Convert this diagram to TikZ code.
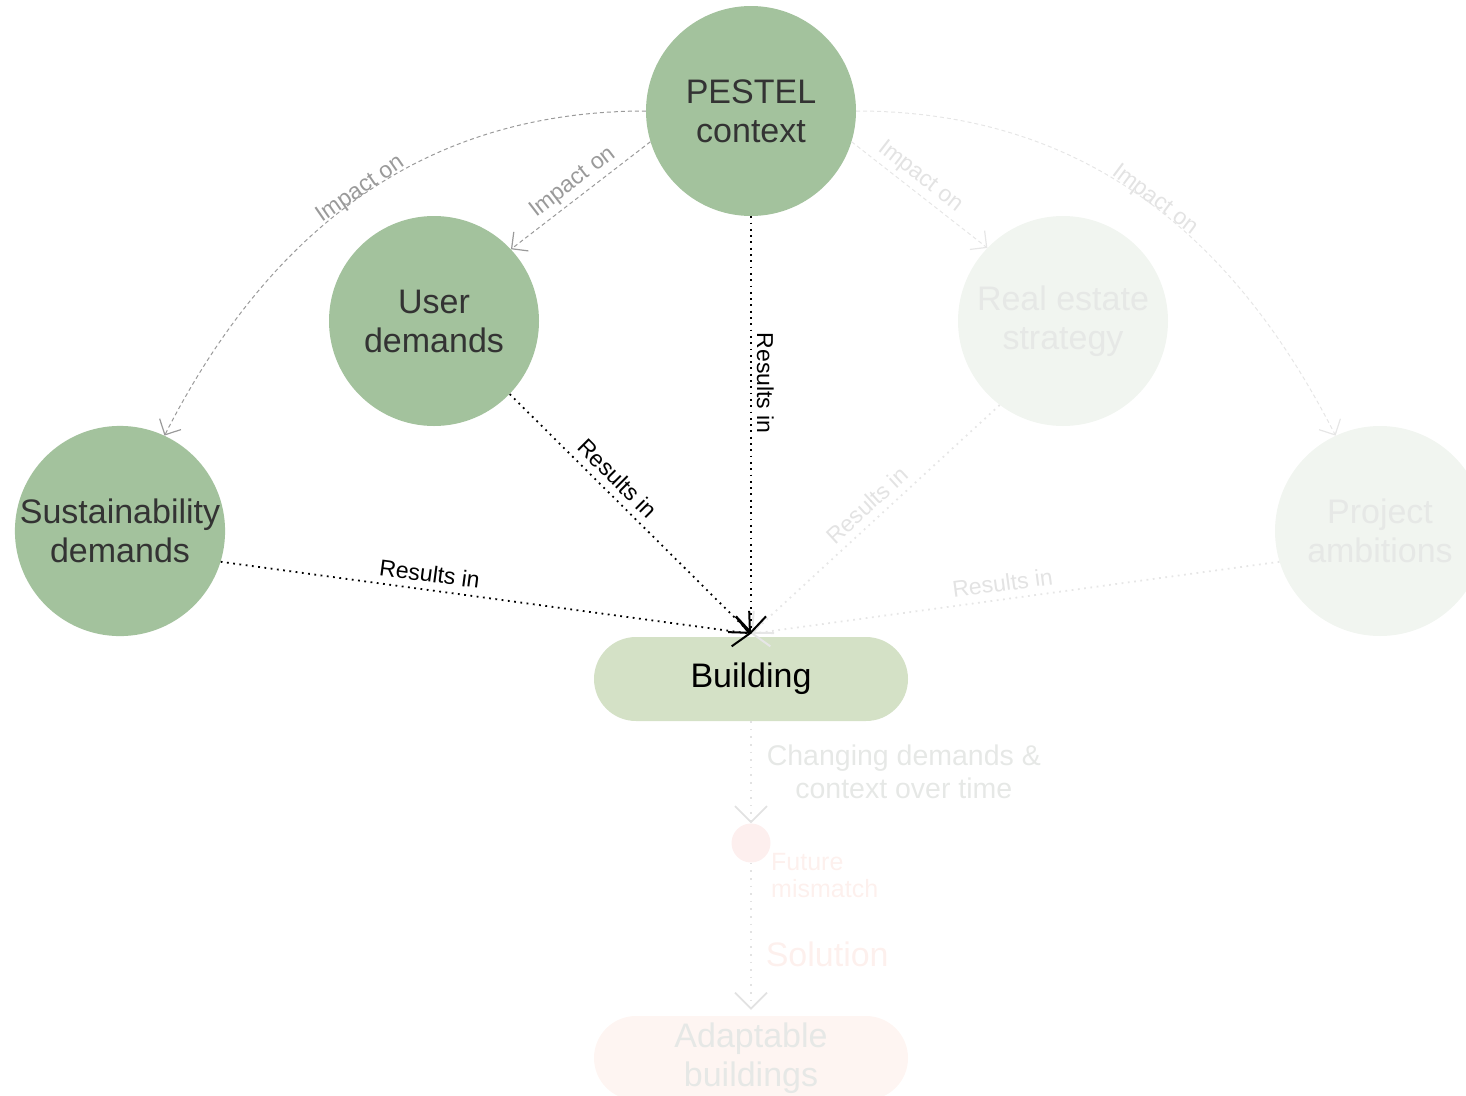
\documentclass[tikz,border=0pt]{standalone}
\usepackage{fontspec}
\setmainfont{Liberation Sans}
\usetikzlibrary{arrows.meta}

\definecolor{sage}{HTML}{A3C29D}
\definecolor{ink}{HTML}{333333}
\definecolor{buildfill}{HTML}{D4E1C6}
\definecolor{palegreen}{HTML}{F1F5F0}
\definecolor{paletext}{HTML}{E6E8E6}
\definecolor{impactgray}{HTML}{9A9A9A}
\definecolor{faintline}{HTML}{E6E6E6}
\definecolor{faintlabel}{HTML}{E3E3E3}
\definecolor{pinkdot}{HTML}{FDEFEE}
\definecolor{pinktext}{HTML}{FDF0ED}
\definecolor{pinkfill}{HTML}{FEF5F2}
\definecolor{lowline}{HTML}{E2E2E2}

\tikzset{
  bubble/.style={circle, minimum size=210pt, inner sep=0pt, align=center,
    font=\fontsize{34}{39}\selectfont},
  strongbubble/.style={bubble, fill=sage, text=ink},
  faintbubble/.style={bubble, fill=palegreen, text=paletext},
  pill/.style={rectangle, rounded corners=42pt, minimum width=314pt,
    minimum height=84pt, inner sep=0pt, align=center,
    font=\fontsize{34}{39}\selectfont},
  lbl/.style={font=\fontsize{23}{26}\selectfont, inner xsep=2pt, inner ysep=7pt},
  resline/.style={line width=1.8pt, dash pattern=on 1.8pt off 4.5pt,
    -{Straight Barb[length=16pt,width=30pt,line width=2pt]}},
  faintres/.style={resline, draw=faintline},
  impline/.style={draw=impactgray, line width=1pt, dash pattern=on 4pt off 3pt,
    -{Straight Barb[length=12pt,width=24pt,line width=1.2pt]}},
  faintimp/.style={impline, draw=faintline},
  lowarrow/.style={draw=lowline, line width=1.6pt, dash pattern=on 1.6pt off 6pt,
    -{Straight Barb[length=16pt,width=32pt,line width=1.8pt]}}
}

\begin{document}
\begin{tikzpicture}[x=1pt,y=1pt]
\useasboundingbox (0,0) rectangle (1466,-1095);
\clip (0,0) rectangle (1466,-1095);

% actors
\node[strongbubble] (pe) at (751,-111) {PESTEL\\context};
\node[strongbubble] (ud) at (434,-321) {User\\demands};
\node[strongbubble] (sus) at (120,-531) {Sustainability\\demands};
\node[faintbubble] (re) at (1063,-321) {Real estate\\strategy};
\node[faintbubble] (pa) at (1380,-531) {Project\\ambitions};

% outcome chain
\node[pill, fill=buildfill, text=black] (bld) at (751,-679) {Building};
\node[circle, minimum size=39pt, inner sep=0pt, fill=pinkdot] (fm) at (751,-843) {};
\node[anchor=west, align=left, text=pinktext, inner sep=0pt,
  font=\fontsize{25}{27}\selectfont] (fmlbl) at (771,-876) {Future\\mismatch};
\node[pill, fill=pinkfill, text=paletext] (ab) at (751,-1058) {Adaptable\\buildings};

% impact links from the context
\draw[impline] (pe.west) to[out=180,in=63]
  node[lbl, text=impactgray, sloped, anchor=base, pos=0.49, inner sep=0pt] {Impact on} (sus.65);
\draw[impline] (pe.197) --
  node[lbl, text=impactgray, rotate=37.7, anchor=south, pos=0.49, inner ysep=4pt] {Impact on} (ud.43);
\draw[faintimp] (pe.-17) --
  node[lbl, text=faintlabel, rotate=-37.7, anchor=south, pos=0.44, inner ysep=4pt] {Impact on} (re.136);
\draw[faintimp] (pe.east) to[out=0,in=117]
  node[lbl, text=faintlabel, sloped, anchor=base, pos=0.52, inner sep=0pt] {Impact on} (pa.115);

% results links into the building
\draw[faintres] (re.233) --
  node[lbl, text=faintlabel, rotate=42.6, anchor=south, pos=0.49] {Results in} ([yshift=3pt]bld.north);
\draw[faintres] (pa.197) --
  node[lbl, text=faintlabel, rotate=7.6, anchor=south, pos=0.52] {Results in} ([yshift=3pt]bld.north);
\draw[resline] (sus.-17) --
  node[lbl, rotate=-7.6, anchor=south, pos=0.39] {Results in} ([yshift=3pt]bld.north);
\draw[resline] (ud.-44) --
  node[lbl, rotate=-45, anchor=south, pos=0.40] {Results in} ([yshift=3pt]bld.north);
\draw[resline] (pe.south) --
  node[lbl, rotate=-90, anchor=south, pos=0.40, inner ysep=5pt] {Results in} ([yshift=3pt]bld.north);

% over time
\draw[lowarrow] (bld.south) --
  node[anchor=west, xshift=15pt, align=center, text=paletext, inner sep=0pt,
    font=\fontsize{28.5}{33}\selectfont, pos=0.5] {Changing demands \&\\context over time} (fm.north);
\draw[lowarrow] (fm.south) --
  node[anchor=west, xshift=14pt, text=pinktext, inner sep=0pt,
    font=\fontsize{34}{39}\selectfont, pos=0.62] {Solution} ([yshift=6pt]ab.north);
\end{tikzpicture}
\end{document}
